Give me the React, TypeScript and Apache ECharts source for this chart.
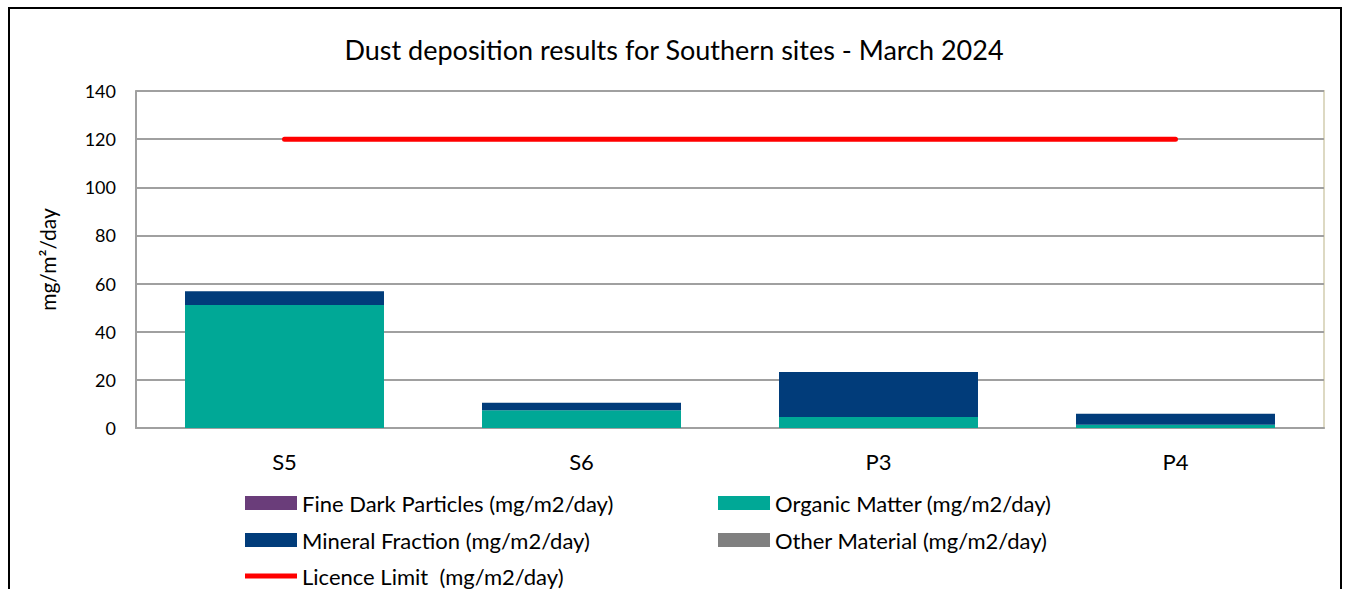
import React, { useEffect, useRef } from "react";
import * as echarts from "echarts";

const sites = ["S5", "S6", "P3", "P4"];
const fineDark = [0, 0, 0, 0];
const organic = [51.1, 7.4, 4.6, 1.3];
const mineral = [5.7, 3.1, 18.7, 4.6];
const other = [0, 0, 0, 0];
const licence = [120, 120, 120, 120];

const yTicks = { min: 0, max: 140, interval: 20 };
const FONT = "Lato, 'Open Sans', sans-serif";
const LINE_ICON = "path://M0,0 L0.05,0 M0,4.5 L52,4.5 L52,9.5 L0,9.5 Z M0,14 L0.05,14";

const N_FINE = "Fine Dark Particles (mg/m2/day)";
const N_ORG = "Organic Matter (mg/m2/day)";
const N_MIN = "Mineral Fraction (mg/m2/day)";
const N_OTH = "Other Material (mg/m2/day)";
const N_LIM = "Licence Limit  (mg/m2/day)";

export default function App() {
  const ref = useRef<HTMLDivElement>(null);
  useEffect(() => {
    if (!ref.current) return;
    const chart = echarts.init(ref.current, undefined, { renderer: "svg" });
    const barBase = {
      type: "bar" as const,
      stack: "total",
      barCategoryGap: "33%",
    };
    const legendText = { fontFamily: FONT, fontSize: 22, color: "#000", lineHeight: 22 };
    const mkLegend = (name: string, icon: string, left: number, top: number) => ({
      data: [{ name, icon }],
      left,
      top,
      itemWidth: 52,
      itemHeight: 14,
      padding: 0,
      textStyle: legendText,
    });
    chart.setOption({
      animation: false,
      backgroundColor: "#fff",
      textStyle: { fontFamily: FONT },
      title: {
        text: "Dust deposition results for Southern sites - March 2024",
        left: "center",
        top: 31,
        textStyle: { fontFamily: FONT, fontSize: 27, fontWeight: "normal", color: "#000" },
      },
      graphic: [
        {
          type: "rect",
          shape: { x: 9, y: 8, width: 1332, height: 700 },
          style: { fill: "none", stroke: "#000", lineWidth: 2 },
          silent: true,
        },
      ],
      grid: {
        left: 136,
        right: 24,
        top: 91,
        bottom: 161,
        show: true,
        borderColor: "#ddd9c3",
        borderWidth: 2,
        backgroundColor: "transparent",
      },
      legend: [
        mkLegend(N_FINE, "rect", 245, 492),
        mkLegend(N_MIN, "rect", 245, 529),
        mkLegend(N_LIM, LINE_ICON, 245, 565),
        mkLegend(N_ORG, "rect", 718, 492),
        mkLegend(N_OTH, "rect", 718, 529),
      ],
      xAxis: {
        type: "category",
        data: sites,
        axisLine: { show: true, lineStyle: { color: "#a0a0a0", width: 2 } },
        axisTick: { show: false },
        axisLabel: { color: "#000", fontSize: 22, fontFamily: FONT, margin: 22 },
      },
      yAxis: {
        type: "value",
        min: yTicks.min,
        max: yTicks.max,
        interval: yTicks.interval,
        name: "mg/m²/day",
        nameLocation: "middle",
        nameGap: 78,
        nameTextStyle: { color: "#000", fontSize: 21, fontFamily: FONT },
        axisLine: { show: true, lineStyle: { color: "#a0a0a0", width: 2 } },
        axisTick: { show: false },
        axisLabel: { color: "#000", fontSize: 18, fontFamily: FONT, margin: 20 },
        splitLine: { show: true, lineStyle: { color: "#a0a0a0", width: 2 } },
      },
      series: [
        { ...barBase, name: N_FINE, data: fineDark, itemStyle: { color: "#6a3d7a" } },
        { ...barBase, name: N_ORG, data: organic, itemStyle: { color: "#00a896" } },
        { ...barBase, name: N_MIN, data: mineral, itemStyle: { color: "#013c7a" } },
        { ...barBase, name: N_OTH, data: other, itemStyle: { color: "#808080" } },
        {
          type: "line",
          name: N_LIM,
          data: licence,
          symbol: "none",
          itemStyle: { color: "#ff0000" },
          lineStyle: { color: "#ff0000", width: 5, cap: "round" },
          z: 5,
        },
      ],
    });
    return () => chart.dispose();
  }, []);
  return (
    <div
      ref={ref}
      style={{ position: "absolute", left: 0, top: 0, width: 1348, height: 589 }}
    />
  );
}
